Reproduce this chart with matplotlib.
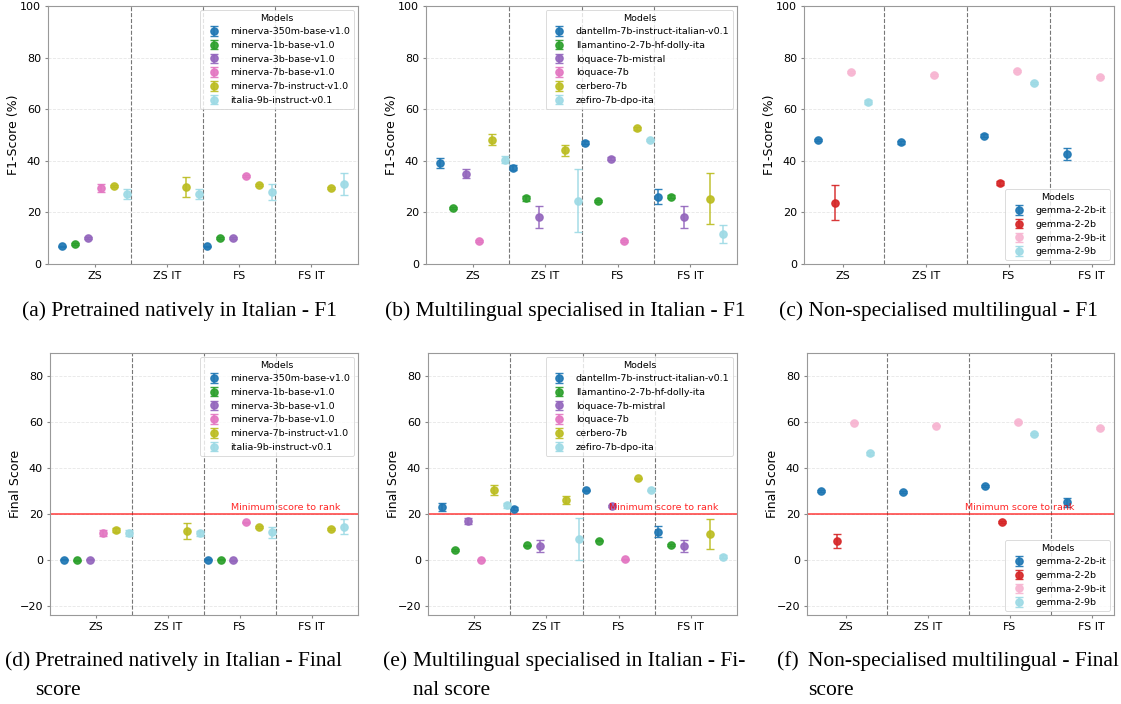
import numpy as np
import matplotlib
matplotlib.use("Agg")
import matplotlib.pyplot as plt

nan = np.nan
categories = ["ZS", "ZS IT", "FS", "FS IT"]

# ---------------- Panel (a) / (d): natively Italian ----------------
models_native = ["minerva-350m-base-v1.0", "minerva-1b-base-v1.0", "minerva-3b-base-v1.0",
                 "minerva-7b-base-v1.0", "minerva-7b-instruct-v1.0", "italia-9b-instruct-v0.1"]
f1_native = [
    [6.8, nan, 6.8, nan],
    [7.7, nan, 10.2, nan],
    [10.1, nan, 10.2, nan],
    [29.5, nan, 34.2, nan],
    [30.2, 29.8, 30.6, 29.5],
    [27.0, 27.0, 28.1, 31.0],
]
f1_native_err = [
    [0.3, nan, 0.3, nan],
    [0.4, nan, 0.4, nan],
    [0.4, nan, 0.4, nan],
    [1.7, nan, 0.4, nan],
    [0.5, 3.8, 0.5, 0.4],
    [1.9, 1.9, 3.1, 4.4],
]
final_native = [
    [0.3, nan, 0.2, nan],
    [0.0, nan, 0.3, nan],
    [0.3, nan, 0.0, nan],
    [11.7, nan, 16.5, nan],
    [13.0, 12.7, 14.3, 13.6],
    [11.7, 11.7, 12.1, 14.6],
]
final_native_err = [
    [0.2, nan, 0.2, nan],
    [0.2, nan, 0.2, nan],
    [0.2, nan, 0.2, nan],
    [1.4, nan, 0.3, nan],
    [0.8, 3.5, 0.5, 0.4],
    [1.3, 1.2, 2.3, 3.4],
]

# ---------------- Panel (b) / (e): multilingual specialised ----------------
models_spec = ["dantellm-7b-instruct-italian-v0.1", "llamantino-2-7b-hf-dolly-ita",
               "loquace-7b-mistral", "loquace-7b", "cerbero-7b", "zefiro-7b-dpo-ita"]
f1_spec = [
    [39.1, 37.3, 47.0, 26.1],
    [21.7, 25.5, 24.6, 26.1],
    [35.0, 18.1, 40.8, 18.1],
    [9.0, nan, 9.0, nan],
    [48.1, 44.0, 52.6, 25.3],
    [40.4, 24.6, 48.0, 11.5],
]
f1_spec_err = [
    [1.8, 1.0, 0.5, 3.0],
    [0.4, 1.0, 0.4, 0.7],
    [1.8, 4.3, 0.5, 4.3],
    [0.3, nan, 0.3, nan],
    [2.1, 2.3, 0.5, 9.9],
    [1.3, 12.3, 0.5, 3.5],
]
final_spec = [
    [23.0, 22.4, 30.3, 12.4],
    [4.5, 6.4, 8.5, 6.6],
    [16.9, 6.2, 23.4, 6.2],
    [0.1, nan, 0.4, nan],
    [30.6, 26.2, 35.5, 11.4],
    [23.8, 9.1, 30.3, 1.6],
]
final_spec_err = [
    [1.7, 0.5, 0.4, 2.3],
    [0.3, 0.4, 0.3, 0.6],
    [1.3, 2.6, 0.4, 2.6],
    [0.2, nan, 0.2, nan],
    [2.1, 1.6, 0.4, 6.6],
    [1.2, 9.2, 0.4, 0.6],
]

# ---------------- Panel (c) / (f): non-specialised multilingual ----------------
models_multi = ["gemma-2-2b-it", "gemma-2-2b", "gemma-2-9b-it", "gemma-2-9b"]
f1_multi = [
    [47.9, 47.1, 49.7, 42.6],
    [23.7, nan, 31.4, nan],
    [74.5, 73.3, 74.7, 72.4],
    [62.8, nan, 70.3, nan],
]
f1_multi_err = [
    [0.4, 0.4, 0.5, 2.2],
    [6.8, nan, 0.7, nan],
    [0.4, 0.4, 0.4, 0.4],
    [0.7, nan, 0.4, nan],
]
final_multi = [
    [30.2, 29.6, 32.2, 25.1],
    [8.4, nan, 16.5, nan],
    [59.8, 58.5, 60.1, 57.5],
    [46.4, nan, 54.9, nan],
]
final_multi_err = [
    [0.4, 0.5, 0.5, 2.1],
    [3.0, nan, 0.4, nan],
    [0.4, 0.4, 0.4, 0.4],
    [0.7, nan, 0.4, nan],
]

captions_top = ["(a) Pretrained natively in Italian - F1",
                "(b) Multilingual specialised in Italian - F1",
                "(c) Non-specialised multilingual - F1"]
captions_bottom = [("(d)", "Pretrained natively in Italian - Final\nscore"),
                   ("(e)", "Multilingual specialised in Italian - Fi-\nnal score"),
                   ("(f)", "Non-specialised multilingual - Final\nscore")]

# ---------------- Figure ----------------
W, H = 1121, 704
fig = plt.figure(figsize=(W / 100, H / 100), dpi=100)


def box(l, t, r, b):
    return [l / W, 1 - b / H, (r - l) / W, (b - t) / H]


def draw(ax, width_px, models, vals, errs, step, ylabel, ylim, yticks, legend_loc,
         threshold=False, text_x=None):
    n = len(models)
    colors = plt.cm.tab20(np.linspace(0, 1, n))
    base = np.arange(len(categories))
    for i, (m, v, e) in enumerate(zip(models, vals, errs)):
        x = base + (i - (n - 1) / 2) * step
        ax.errorbar(x, np.array(v, float), yerr=np.array(e, float), fmt='o',
                    color=colors[i], markersize=5.2, capsize=2.8,
                    elinewidth=1.1, capthick=1.0, alpha=0.92, label=m, zorder=3)
    for s in [0.5, 1.5, 2.5]:
        ax.axvline(s, color='#777777', linestyle='--', linewidth=0.8, zorder=1)
    if threshold:
        ax.axhline(20, color='red', alpha=0.7, linewidth=1.2, zorder=2)
        ax.text(text_x, 20.9, "Minimum score to rank", color='red', alpha=0.85,
                fontsize=6.8, ha='left', va='bottom', zorder=4)
    ax.set_xticks(base)
    ax.set_xticklabels(categories)
    ax.set_ylim(*ylim)
    ax.set_yticks(yticks)
    ax.set_ylabel(ylabel, fontsize=9)
    ax.yaxis.set_label_coords(-28 / width_px, 0.5)
    ax.yaxis.grid(True, linestyle='--', alpha=0.3, linewidth=0.6)
    ax.set_axisbelow(True)
    ax.tick_params(labelsize=8, color='#888888', length=2.5, pad=2.5)
    for sp in ax.spines.values():
        sp.set_color('#999999')
    leg = ax.legend(title="Models", loc=legend_loc, fontsize=6.8,
                    title_fontsize=6.8, borderaxespad=0.4)
    leg.get_frame().set_linewidth(0.6)


top_boxes = [(48, 6, 358, 264), (426, 6, 737, 264), (804, 6, 1114, 264)]
bot_boxes = [(50, 353, 358, 615), (428, 353, 737, 615), (807, 353, 1114, 615)]

groups = [
    (models_native, f1_native, f1_native_err, final_native, final_native_err, 0.18, 'upper right', 1.87),
    (models_spec, f1_spec, f1_spec_err, final_spec, final_spec_err, 0.18, 'upper right', 1.87),
    (models_multi, f1_multi, f1_multi_err, final_multi, final_multi_err, 0.2, 'lower right', 1.45),
]

for k, (models, f1, f1e, fin, fine, step, loc, tx) in enumerate(groups):
    tb = top_boxes[k]
    ax = fig.add_axes(box(*tb))
    draw(ax, tb[2] - tb[0], models, f1, f1e, step, "F1-Score (%)", (0, 100),
         np.arange(0, 101, 20), loc)
    bb = bot_boxes[k]
    ax2 = fig.add_axes(box(*bb))
    draw(ax2, bb[2] - bb[0], models, fin, fine, step, "Final Score", (-23.8, 90),
         np.arange(-20, 81, 20), loc, threshold=True, text_x=tx)

serif = ['Liberation Serif', 'DejaVu Serif']
cap_size = 15.5
top_x = [22, 385, 779]
for x, c in zip(top_x, captions_top):
    fig.text(x / W, 1 - 311 / H, c, family=serif, fontsize=cap_size, ha='left', va='center')

bot_x = [5, 383, 777]
indent = [30, 30, 31]
for x, ind, (lab, body) in zip(bot_x, indent, captions_bottom):
    lines = body.split("\n")
    fig.text(x / W, 1 - 666 / H, lab, family=serif, fontsize=cap_size, ha='left', va='baseline')
    fig.text((x + ind) / W, 1 - 666 / H, lines[0], family=serif, fontsize=cap_size,
             ha='left', va='baseline')
    fig.text((x + ind) / W, 1 - 695 / H, lines[1], family=serif, fontsize=cap_size,
             ha='left', va='baseline')

fig.savefig("out.png", dpi=100)
